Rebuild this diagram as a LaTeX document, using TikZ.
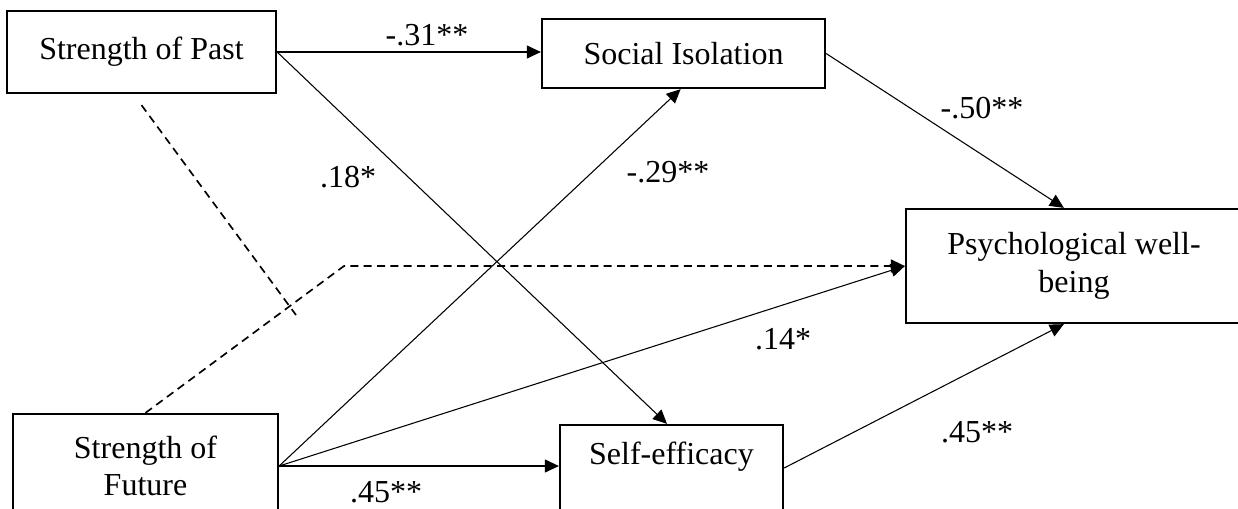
\documentclass[tikz,border=0pt]{standalone}
\usepackage{fontspec}
\setmainfont{Liberation Serif}
\usetikzlibrary{arrows.meta,calc}
% one drawing unit = one pixel of the layout grid
\newdimen\pxu \pxu=0.75pt
\begin{document}
\begin{tikzpicture}[x=0.75pt,y=-0.75pt,
  every node/.style={font=\fontsize{24}{28}\selectfont},
  box/.style={draw, line width=1.7pt, inner sep=0pt, align=center},
  tip/.style={-{Triangle[length=10.5pt,width=9.75pt]}},
  conn/.style={line width=0.8pt, tip},
  dline/.style={line width=1.25pt, dash pattern=on 6pt off 4pt},
  coef/.style={inner sep=0pt}]
\useasboundingbox (0,0) rectangle (1238,508);

% variables
\node[box, minimum width=269\pxu, minimum height=82\pxu]  (sop) at (141.5,52)  {Strength of Past};
\node[box, minimum width=283\pxu, minimum height=69\pxu]  (si)  at (683.5,53.5) {Social Isolation};
\node[box, minimum width=336\pxu, minimum height=114\pxu] (pwb) at (1074,266)  {Psychological well-\\being};
\node[box, minimum width=265\pxu, minimum height=104\pxu] (sof) at (145.5,466) {Strength of\\Future};
\node[box, minimum width=223\pxu, minimum height=86\pxu]  (se)  at (671.5,468) {};
\node (setext) at (671.5,457) {Self-efficacy};

% paths
\draw[conn] (sop.east) -- (sop.east -| si.west);
\draw[conn] (sop.east) -- ($(se.north west)!0.48!(se.north east)$);
\draw[conn] (si.east) -- ($(pwb.north west)!0.47!(pwb.north east)$);
\draw[conn] (sof.east) -- ($(si.south west)!0.49!(si.south east)$);
\draw[conn] (sof.east) -- (pwb.west);
\draw[conn] (sof.east) -- (sof.east -| se.west);
\draw[conn] (se.east) -- ($(pwb.south west)!0.47!(pwb.south east)$);

% non-significant paths
\coordinate (dpa) at ($(sop.south)+(0,11)$);
\coordinate (dpb) at (296,315);
\draw[dline] (dpa) -- (dpb);
\coordinate (dbend) at (344,266);
\draw[dline, tip] (sof.north) -- (dbend) -- (pwb.west);

% coefficients
\node[coef] (c1) at (427,35)  {-.31**};
\node[coef] (c2) at (348,177) {.18*};
\node[coef] (c3) at (668,172) {-.29**};
\node[coef] (c4) at (982,108) {-.50**};
\node[coef] (c5) at (783,339) {.14*};
\node[coef] (c6) at (977,432) {.45**};
\node[coef] (c7) at (386,492) {.45**};
\end{tikzpicture}
\end{document}
